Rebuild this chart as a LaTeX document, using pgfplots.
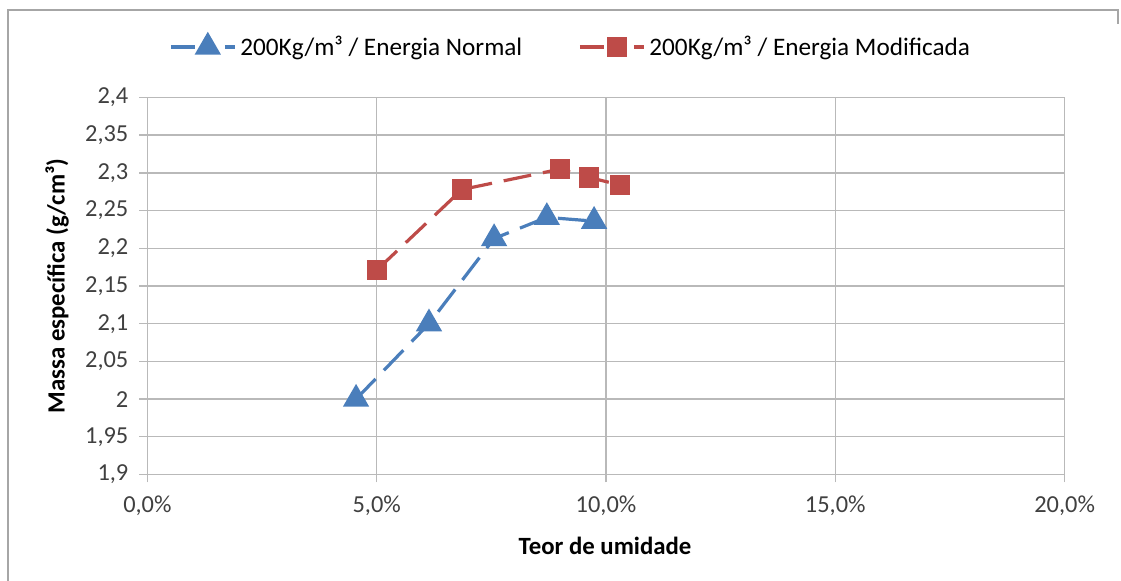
\documentclass[border=0pt]{standalone}
\usepackage{fontspec}
\setmainfont{Carlito}
\usepackage{pgfplots}
\pgfplotsset{compat=1.18}
\definecolor{sblue}{HTML}{4A7EBB}
\definecolor{sred}{HTML}{BE4B48}
\definecolor{tickgray}{HTML}{404040}
\begin{document}
\begin{tikzpicture}
\useasboundingbox (0,0) rectangle (560.5pt,-290.5pt);
\draw[gray!70, line width=1pt] (4pt,-290.5pt) -- (4pt,-5pt) -- (559pt,-5pt) -- (559pt,-12pt);
\begin{axis}[
  at={(73.7pt,-237.25pt)}, anchor=south west,
  scale only axis, width=458.6pt, height=188.5pt,
  xmin=0, xmax=20, ymin=1.9, ymax=2.4,
  xtick={0,5,10,15,20},
  xticklabels={{0,0\%},{5,0\%},{10,0\%},{15,0\%},{20,0\%}},
  ytick={1.9,1.95,2,2.05,2.1,2.15,2.2,2.25,2.3,2.35,2.4},
  yticklabel style={/pgf/number format/use comma, /pgf/number format/fixed, /pgf/number format/precision=2, xshift=-2pt},
  /pgf/number format/assume math mode=true,
  ticklabel style={font=\fontsize{12.2}{14}\selectfont, text=tickgray},
  grid=major,
  major grid style={gray!55, line width=0.7pt},
  axis line style={gray!55, line width=0.7pt},
  axis x line*=bottom, axis y line*=left,
  tick style={gray!55, line width=0.7pt},
  tick align=outside, major tick length=4pt,
  xtick pos=bottom, ytick pos=left,
  xticklabel style={yshift=-3pt},
  xlabel={\textbf{Teor de umidade}},
  ylabel={\textbf{Massa específica (g/cm³)}},
  xlabel style={font=\fontsize{12.4}{14}\selectfont, at={(axis description cs:0.499,-0.19)}, anchor=center},
  ylabel style={font=\fontsize{12.4}{14}\selectfont, at={(axis description cs:-0.0986,0.5)}, anchor=center},
  legend style={at={(0.4625,1.134)}, anchor=center, draw=none, fill=none,
    font=\fontsize{12.6}{14}\selectfont, legend columns=2,
    /tikz/every even column/.append style={column sep=26pt},
    /tikz/every odd column/.append style={inner sep=0pt}},
  legend image code/.code={%
    \draw[#1, solid] (0pt,0pt) -- (12pt,0pt);
    \draw[#1, solid] (27pt,0pt) -- (32pt,0pt);
    \draw[#1, solid] plot coordinates {(18.5pt,0pt)};},
  clip=false,
]
\addplot[sblue, line width=1.6pt, dash pattern=on 14pt off 6pt,
  mark=triangle*, mark size=6pt, mark options={solid, fill=sblue, draw=sblue}]
  coordinates {(4.55,2.0)(6.14,2.10)(7.56,2.213)(8.71,2.241)(9.74,2.236)};
\addlegendentry{200Kg/m³ / Energia Normal}
\addplot[sred, line width=1.6pt, dash pattern=on 14pt off 6pt,
  mark=square*, mark size=4.3pt, mark options={solid, fill=sred, draw=sred}]
  coordinates {(5.0,2.171)(6.86,2.278)(9.0,2.305)(9.63,2.294)(10.3,2.284)};
\addlegendentry{200Kg/m³ / Energia Modificada}
\end{axis}
\end{tikzpicture}
\end{document}
